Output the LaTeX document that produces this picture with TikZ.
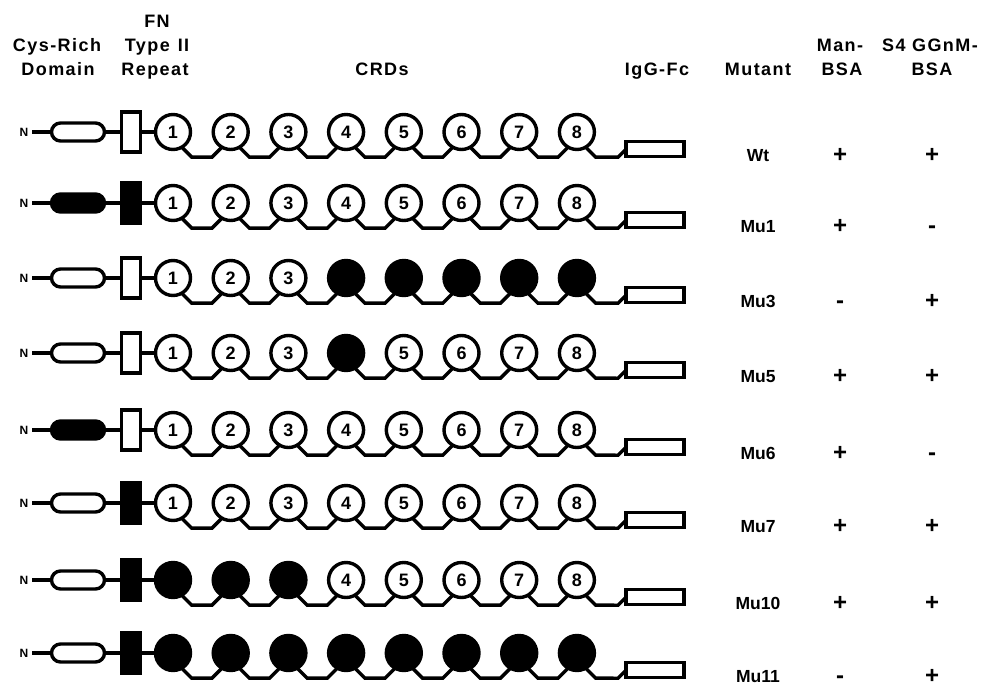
\documentclass[tikz,border=0pt]{standalone}
\usepackage{fontspec}
\setmainfont{Liberation Sans}
\newfontfamily\hdfont{Liberation Sans}[LetterSpace=8]
\usetikzlibrary{calc}

\tikzset{
  thk/.style={line width=3.4pt},
  crd/.style={circle, draw, thk, minimum size=35pt, inner sep=0pt, outer sep=0pt,
              font=\fontsize{18}{18}\selectfont\bfseries},
  crdon/.style={crd, fill=black},
  cysoff/.style={rectangle, draw, thk, rounded corners=9pt, minimum width=53pt,
                 minimum height=18pt, inner sep=0pt, outer sep=0pt},
  cyson/.style={cysoff, fill=black},
  fnoff/.style={rectangle, draw, thk, minimum width=19pt, minimum height=40pt,
                inner sep=0pt, outer sep=0pt},
  fnon/.style={fnoff, fill=black},
  fcbox/.style={rectangle, draw, thk, minimum width=58pt, minimum height=15pt,
                inner sep=0pt, outer sep=0pt},
  nterm/.style={font=\fontsize{12}{12}\selectfont\bfseries, inner ysep=0pt, inner xsep=4pt, outer sep=0pt},
  linker/.style={thk, line join=miter},
  hdr/.style={font=\fontsize{18}{18}\selectfont\hdfont\bfseries, anchor=base, inner sep=0pt},
  mutlab/.style={font=\fontsize{17.5}{17.5}\selectfont\bfseries, anchor=base, inner sep=0pt},
  sign/.style={font=\fontsize{24}{24}\selectfont\bfseries, anchor=base, inner sep=0pt},
}

\begin{document}
\begin{tikzpicture}[x=1pt, y=-1pt]
\fill[white] (0,0) rectangle (981,687);
\useasboundingbox (0,0) rectangle (981,687);

% column headings
\node[hdr] (hcys1) at (57,52) {Cys-Rich};
\node[hdr] (hcys2) at (58,76) {Domain};
\node[hdr] (hfn1) at (157,28) {FN};
\node[hdr] (hfn2) at (157,52) {Type\hspace{8pt}II};
\node[hdr] (hfn3) at (155,76) {Repeat};
\node[hdr] (hcrd) at (382,76) {CRDs};
\node[hdr] (hfc) at (657,76) {IgG-Fc};
\node[hdr] (hmut) at (758,76) {Mutant};
\node[hdr] (hman1) at (840,52) {Man-};
\node[hdr] (hman2) at (842,76) {BSA};
\node[hdr] (hs41) at (930,52) {S4 GGnM-};
\node[hdr] (hs42) at (932,76) {BSA};

% one construct per row: filled CRDs run from \lo to \hi
\foreach \k/\y/\cys/\fn/\lo/\hi/\mut/\ma/\mb in {
  1/132/cysoff/fnoff/9/0/Wt/+/+,
  2/203/cyson/fnon/9/0/Mu1/+/-,
  3/278/cysoff/fnoff/4/8/Mu3/-/+,
  4/353/cysoff/fnoff/4/4/Mu5/+/+,
  5/430/cyson/fnoff/9/0/Mu6/+/-,
  6/503/cysoff/fnon/9/0/Mu7/+/+,
  7/580/cysoff/fnon/1/3/Mu10/+/+,
  8/653/cysoff/fnon/1/8/Mu11/-/+}{
  \node[nterm] (n\k) at (24,\y) {N};
  \node[\cys] (cys\k) at (78,\y) {};
  \node[\fn] (fn\k) at (131,\y) {};
  \draw[thk] (n\k) -- (cys\k);
  \draw[thk] (cys\k) -- (fn\k);
  \foreach \i in {1,...,8}{
    \pgfmathsetmacro\cx{173+57.7*(\i-1)}
    \ifnum\i<\lo \def\st{crd}\def\txt{\i}%
    \else\ifnum\i>\hi \def\st{crd}\def\txt{\i}%
    \else \def\st{crdon}\def\txt{}\fi\fi
    \node[\st] (c\k-\i) at (\cx,\y) {\txt};
  }
  \draw[thk] (fn\k) -- (c\k-1);
  \foreach \i [evaluate=\i as \j using int(\i+1)] in {1,...,7}{
    \draw[linker] (c\k-\i.-60) -- ++(10,10) -- ($(c\k-\j.-120)+(-10,10)$) -- (c\k-\j.-120);
  }
  \node[fcbox] (fc\k) at (655,\y+17.2) {};
  \draw[linker] (c\k-8.-60) -- ++(10,10) -- ($(fc\k.west)+(-8,8)$) -- (fc\k.west);
  \node[mutlab] (m\k) at (758,\y+29.5) {\mut};
  \node[sign] (sa\k) at (840,\y+30) {\ma};
  \node[sign] (sb\k) at (932,\y+30) {\mb};
}
\end{tikzpicture}
\end{document}
